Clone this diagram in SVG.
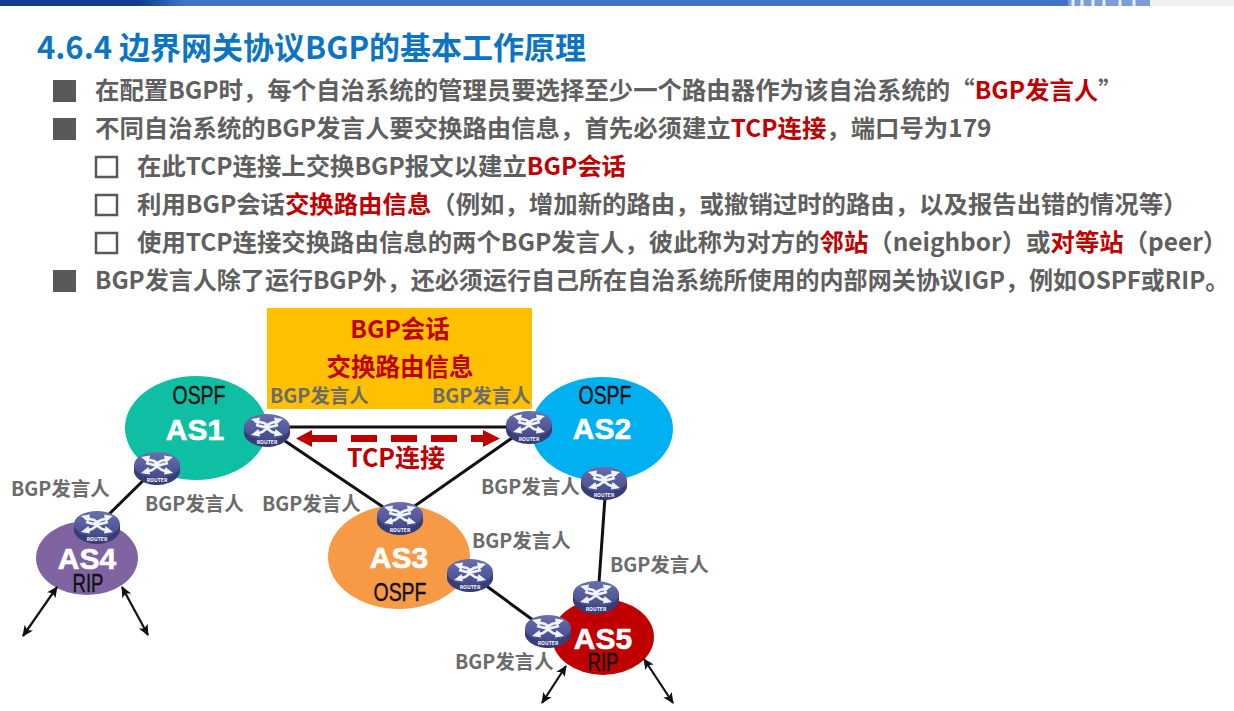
<svg xmlns="http://www.w3.org/2000/svg" xmlns:xlink="http://www.w3.org/1999/xlink" width="1234" height="711" viewBox="0 0 1234 711">
<style>
text{font-family:"Noto Sans CJK SC","Liberation Sans",sans-serif;}
.b{font-size:24.4px;font-weight:bold;fill:#5f5f5f;}
.r{fill:#c00000;}
.sp{font-size:19.5px;font-weight:bold;fill:#6b6b6b;}
.as{font-family:"Liberation Sans",sans-serif;font-size:30px;font-weight:bold;fill:#fff;stroke:#fff;stroke-width:.6;text-anchor:middle;}
.pr{font-family:"Liberation Sans",sans-serif;font-size:25px;fill:#111;stroke:#111;stroke-width:.4;text-anchor:middle;}
.hd{font-size:31px;font-weight:bold;fill:#0b75c4;}
.big{font-size:24.5px;font-weight:bold;fill:#c00000;text-anchor:middle;}
.c{stroke:#111;stroke-width:3;fill:none;}
.d{stroke:#111;stroke-width:2.2;fill:none;marker-start:url(#ah);marker-end:url(#ah);}
.bul{fill:#595959;}
.box{fill:#fff;stroke:#595959;stroke-width:2.5;}
.arw{stroke:#f2f4fb;stroke-width:2.6;fill:none;}
.hed{fill:#f2f4fb;}
</style>
<defs>
<marker id="ah" markerUnits="userSpaceOnUse" markerWidth="12" markerHeight="12" refX="10" refY="6" orient="auto-start-reverse"><path d="M0 1L11 6L0 11L2.500 6Z" fill="#111"/></marker>
<linearGradient id="rg" x1="0" y1="0" x2="0" y2="1"><stop offset="0" stop-color="#6a70ad"/><stop offset="1" stop-color="#454a8c"/></linearGradient>
<linearGradient id="bar" x1="0" y1="0" x2="1" y2="0"><stop offset="0" stop-color="#0f3d8c"/><stop offset=".12" stop-color="#0f3d8c"/><stop offset=".16" stop-color="#4472c4"/><stop offset="1" stop-color="#4472c4"/></linearGradient>
<g id="router">
<path d="M-23 -3V3C-23 11 -11 17 0 17C11 17 23 11 23 3V-3Z" fill="#383d78"/>
<ellipse cx="0" cy="-3" rx="23" ry="13" fill="url(#rg)"/>
<path class="arw" d="M-12 -9L-3 -7L3 -3L11 -5M12 -9L4 -7L-3 -3L-11 -5"/>
<path class="arw" d="M-12 4L-5 2L2 -3M12 4L5 2L-2 -3"/>
<path class="hed" d="M-16 -11L-7 -12.500L-8.500 -5ZM16 -11L7 -12.500L8.500 -5ZM-16 5L-7 6.500L-8.500 -1ZM16 5L7 6.500L8.500 -1Z"/>
<text x="0" y="14" font-size="5" font-family="Liberation Sans" font-weight="bold" fill="#fff" text-anchor="middle">ROUTER</text>
</g>
</defs>
<rect width="1234" height="711" fill="#fff"/>
<g id="topbar">
<rect width="1150" height="6" fill="url(#bar)"/>
<rect x="1068" y="0" width="82" height="6" fill="#7f9bd6"/>
<path d="M1073 0V6M1082 0V6M1093 0V6M1104 0V6M1120 0V6M1134 0V6" stroke="#e8edf8" stroke-width="3"/>
<rect x="1150" y="0" width="84" height="6" fill="#f1f2f4"/>
</g>
<text id="title" class="hd" x="37" y="59">4.6.4 边界网关协议BGP的基本工作原理</text>
<g id="bullets">
<rect class="bul" x="53" y="80" width="23" height="22"/>
<rect class="bul" x="53" y="118" width="23" height="22"/>
<rect class="bul" x="53" y="270" width="23" height="22"/>
<rect class="box" x="96" y="157" width="21" height="20"/>
<rect class="box" x="96" y="195" width="21" height="20"/>
<rect class="box" x="96" y="233" width="21" height="20"/>
<text class="b" x="95" y="99">在配置BGP时，每个自治系统的管理员要选择至少一个路由器作为该自治系统的“<tspan class="r">BGP发言人</tspan>”</text>
<text class="b" x="95" y="137">不同自治系统的BGP发言人要交换路由信息，首先必须建立<tspan class="r">TCP连接</tspan>，端口号为179</text>
<text class="b" x="137" y="175">在此TCP连接上交换BGP报文以建立<tspan class="r">BGP会话</tspan></text>
<text class="b" x="137" y="213">利用BGP会话<tspan class="r">交换路由信息</tspan>（例如，增加新的路由，或撤销过时的路由，以及报告出错的情况等）</text>
<text class="b" x="137" y="251">使用TCP连接交换路由信息的两个BGP发言人，彼此称为对方的<tspan class="r">邻站</tspan>（neighbor）或<tspan class="r">对等站</tspan>（peer）</text>
<text class="b" x="95" y="289" style="font-size:24.05px">BGP发言人除了运行BGP外，还必须运行自己所在自治系统所使用的内部网关协议IGP，例如OSPF或RIP。</text>
</g>
<g id="session-box">
<rect x="267" y="308" width="265" height="101" fill="#ffc000"/>
<text class="big" x="400" y="338">BGP会话</text>
<text class="big" x="400" y="376">交换路由信息</text>
</g>
<g id="as-clouds">
<g id="AS1"><ellipse cx="196" cy="428" rx="71" ry="52" fill="#0ebfa3"/><text class="as" x="195" y="440">AS1</text><text class="pr" x="199" y="404" textLength="53" lengthAdjust="spacingAndGlyphs">OSPF</text></g>
<g id="AS2"><ellipse cx="602" cy="429" rx="71" ry="52" fill="#00b0f0"/><text class="as" x="602" y="439">AS2</text><text class="pr" x="605" y="404" textLength="53" lengthAdjust="spacingAndGlyphs">OSPF</text></g>
<g id="AS3"><ellipse cx="399" cy="557" rx="71" ry="52" fill="#f79a46"/><text class="as" x="399" y="568">AS3</text><text class="pr" x="400" y="601" textLength="53" lengthAdjust="spacingAndGlyphs">OSPF</text></g>
<g id="AS4"><ellipse cx="87" cy="558" rx="51" ry="37" fill="#8064a2"/><text class="as" x="87" y="569">AS4</text><text class="pr" x="88" y="592" textLength="31" lengthAdjust="spacingAndGlyphs">RIP</text></g>
<g id="AS5"><ellipse cx="603" cy="637" rx="51" ry="38" fill="#c00000"/><text class="as" x="603" y="649">AS5</text><text class="pr" x="603" y="671" textLength="31" lengthAdjust="spacingAndGlyphs">RIP</text></g>
</g>
<g id="connectors">
<path class="c" d="M268 427H528"/>
<path class="c" d="M285 441L398 517"/>
<path class="c" d="M512 438L399 517"/>
<path class="c" d="M156 468L97 526"/>
<path class="c" d="M606 483L598 597"/>
<path class="c" d="M470 574L548 631"/>
<path class="d" d="M57 587L23 636"/>
<path class="d" d="M122 587L148 635"/>
<path class="d" d="M566 666L542 703"/>
<path class="d" d="M644 659L673 703"/>
<g id="tcp-arrow" fill="#c00000">
<path d="M296 438.500L312 430V435H337V442H312V447Z"/>
<rect x="351" y="435" width="26" height="7"/>
<rect x="391" y="435" width="26" height="7"/>
<rect x="431" y="435" width="26" height="7"/>
<path d="M471 435H483V430L500 438.500L483 447V442H471Z"/>
</g>
</g>
<g id="routers">
<use id="r1" xlink:href="#router" href="#router" x="267" y="430"/>
<use id="r2" xlink:href="#router" href="#router" x="529" y="427"/>
<use id="r3" xlink:href="#router" href="#router" x="157" y="468"/>
<use id="r4" xlink:href="#router" href="#router" x="604" y="483"/>
<use id="r5" xlink:href="#router" href="#router" x="97" y="527"/>
<use id="r6" xlink:href="#router" href="#router" x="400" y="518"/>
<use id="r7" xlink:href="#router" href="#router" x="470" y="575"/>
<use id="r8" xlink:href="#router" href="#router" x="596" y="597"/>
<use id="r9" xlink:href="#router" href="#router" x="548" y="631"/>
</g>
<g id="labels">
<text class="sp" x="270" y="403">BGP发言人</text>
<text class="sp" x="432" y="403">BGP发言人</text>
<text class="sp" x="11" y="496">BGP发言人</text>
<text class="sp" x="145" y="511">BGP发言人</text>
<text class="sp" x="262" y="511">BGP发言人</text>
<text class="sp" x="481" y="494">BGP发言人</text>
<text class="sp" x="472" y="548">BGP发言人</text>
<text class="sp" x="610" y="572">BGP发言人</text>
<text class="sp" x="455" y="669">BGP发言人</text>
<text x="396" y="467" font-size="25" font-weight="bold" fill="#c00000" text-anchor="middle">TCP连接</text>
</g>
</svg>
